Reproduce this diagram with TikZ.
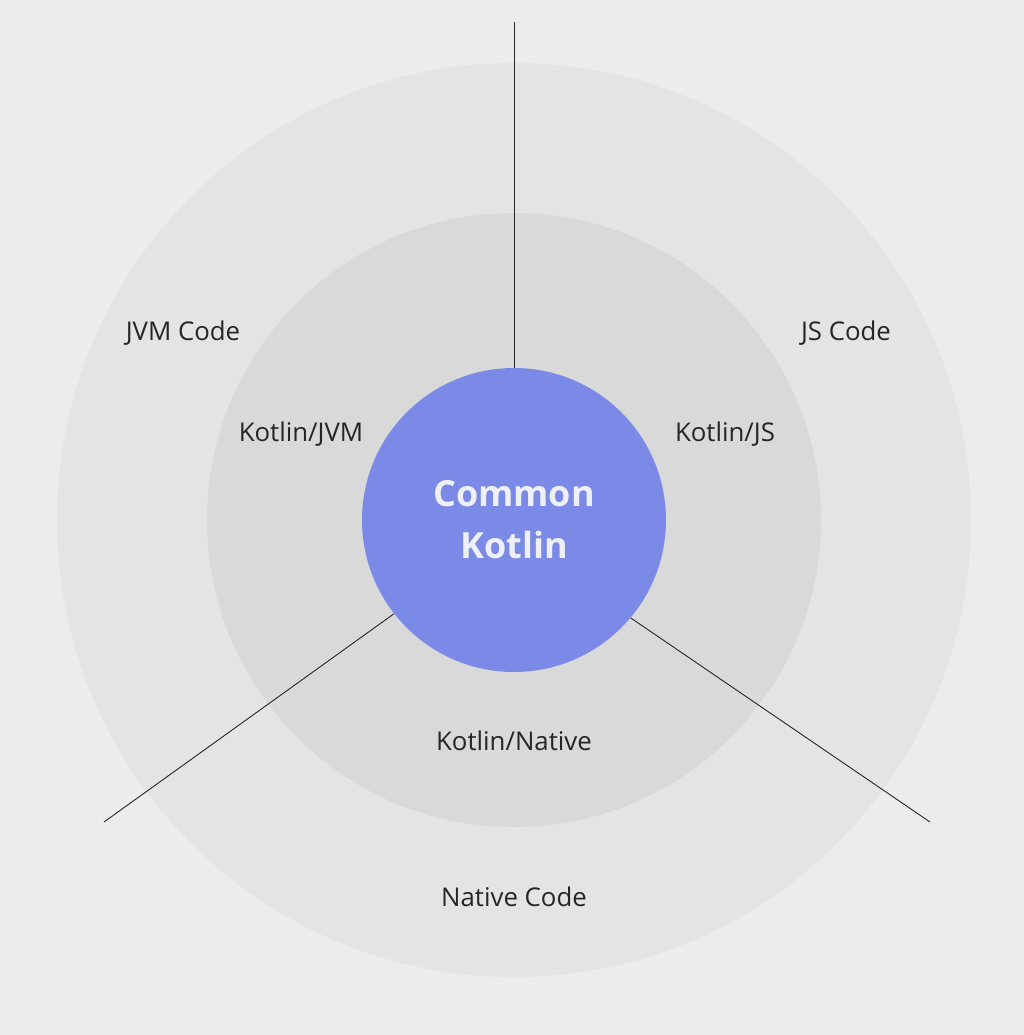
\documentclass[tikz,border=0pt]{standalone}
\usepackage{fontspec}
\setmainfont{Open Sans}
\definecolor{bgc}{HTML}{ECECEC}
\definecolor{outerc}{HTML}{E4E4E4}
\definecolor{midc}{HTML}{D9D9D9}
\definecolor{corec}{HTML}{7B8AE6}
\definecolor{coretext}{HTML}{EEF0F5}
\definecolor{txt}{HTML}{262626}
\begin{document}
\begin{tikzpicture}[x=1pt,y=-1pt,
  lbl/.style={text=txt,font=\fontsize{25.8}{30}\selectfont,inner sep=0pt},
  spoke/.style={draw=black!85,line width=0.9pt}]
\useasboundingbox[fill=bgc] (0,0) rectangle (1024,1035);
\node[circle,fill=outerc,minimum size=914pt,inner sep=0pt] (outer) at (514,520) {};
\node[circle,fill=midc,minimum size=614pt,inner sep=0pt] (mid) at (514,520) {};
\coordinate (top) at (514,22);
\coordinate (bl) at (104,822);
\coordinate (br) at (930,822);
\node[circle,minimum size=304pt,inner sep=0pt] (corebase) at (514,520) {};
\draw[spoke] (corebase.90) -- (top);
\draw[spoke] (corebase.218) -- (bl);
\draw[spoke] (corebase.320) -- (br);
\node[circle,fill=corec,minimum size=304pt,inner sep=0pt,align=center,text=coretext,
  font=\bfseries\fontsize{36}{52}\selectfont] (core) at (514,520) {Common\\Kotlin};
\node[lbl] (jvmcode) at (183,333) {JVM Code};
\node[lbl] (jscode) at (846,333) {JS Code};
\node[lbl] (kjvm) at (301,434) {Kotlin/JVM};
\node[lbl] (kjs) at (725,434) {Kotlin/JS};
\node[lbl] (knative) at (514,741) {Kotlin/Native};
\node[lbl] (ncode) at (514,897) {Native Code};
\end{tikzpicture}
\end{document}
